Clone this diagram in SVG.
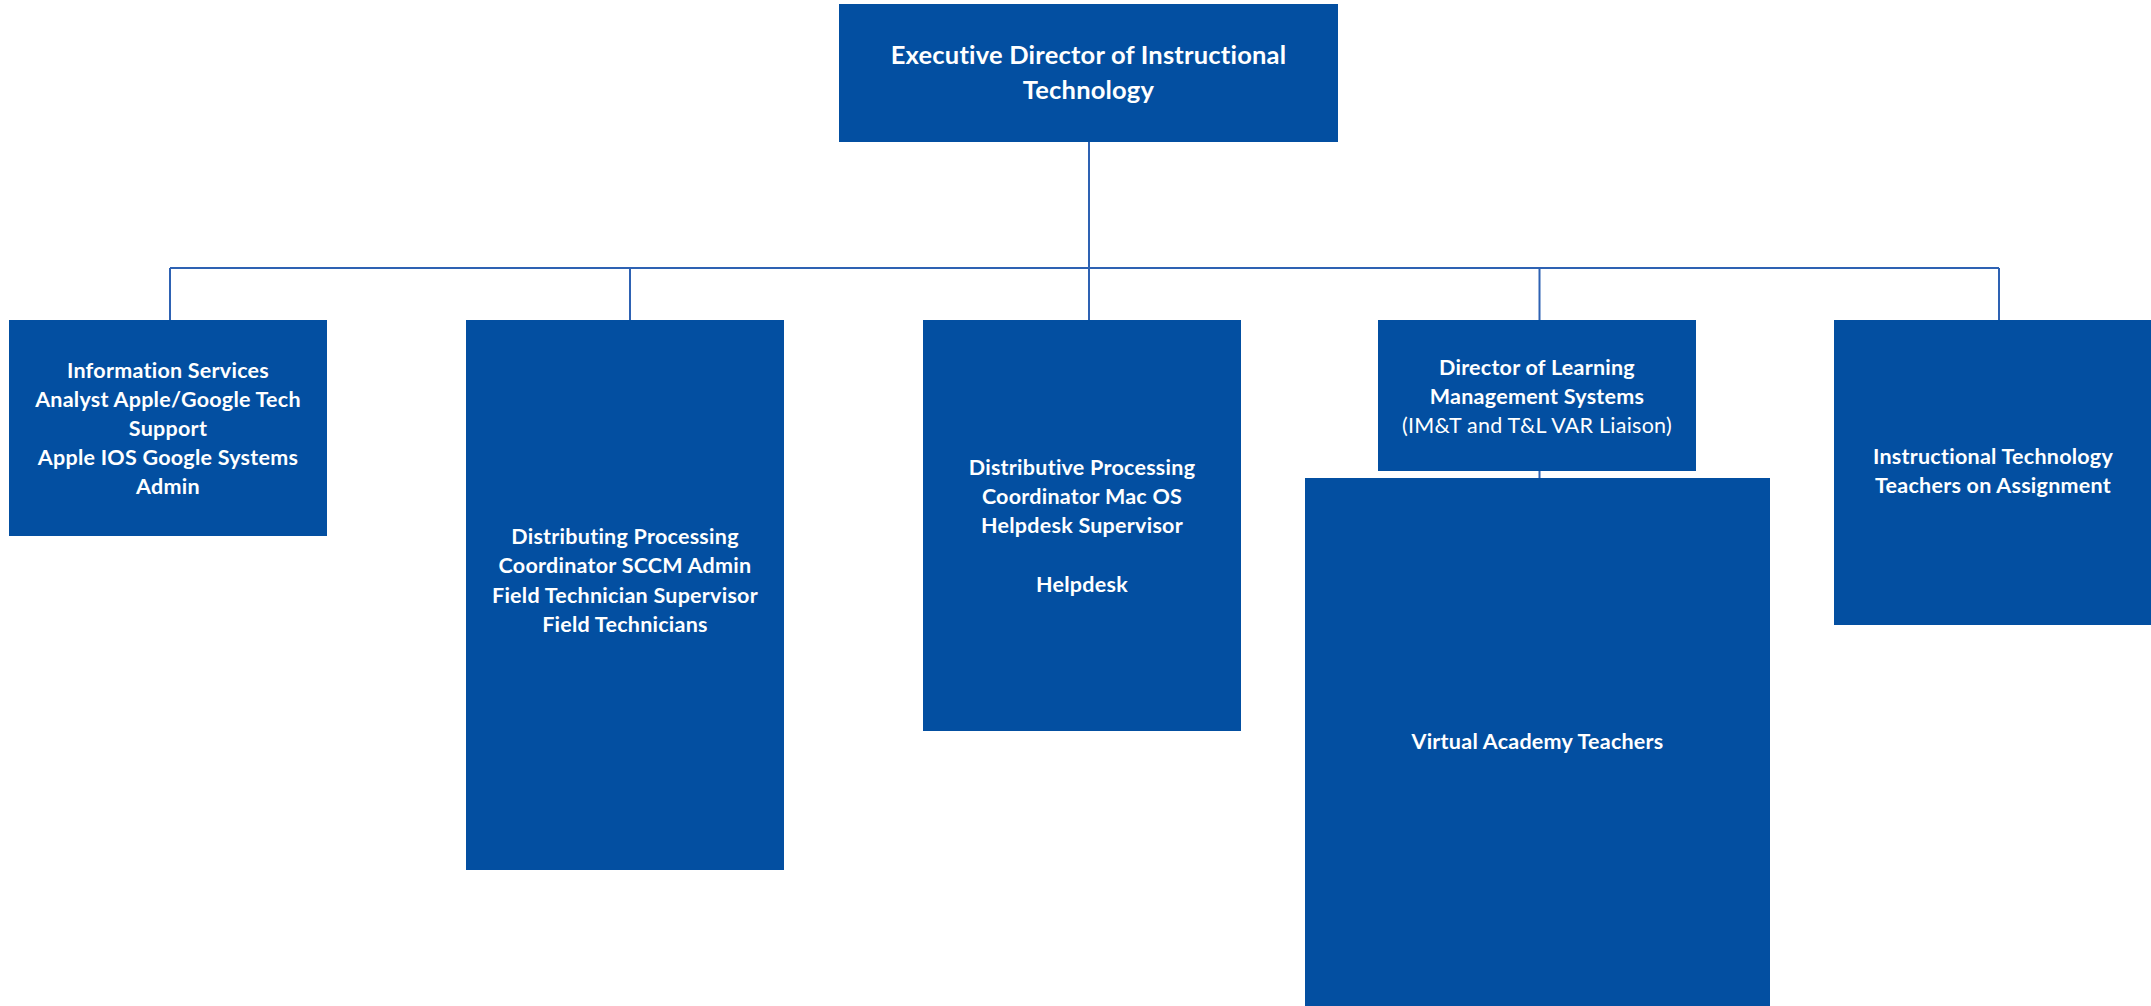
<svg xmlns="http://www.w3.org/2000/svg" width="2151" height="1006" viewBox="0 0 2151 1006">
<style>
.box{fill:#034fa1}
.t{font-family:Lato,"Open Sans","Liberation Sans",sans-serif;font-weight:bold;fill:#fff;text-anchor:middle;font-size:21.5px;letter-spacing:0.25px}
.tt{font-size:25.5px;letter-spacing:0.2px}
.n{font-weight:normal}
.c{stroke:#2e62b3;stroke-width:2;fill:none}
</style>
<rect width="2151" height="1006" fill="#fff"/>
<g id="connectors">
<path class="c" d="M1089 141V268M170 268H1999M170 268V320M630 268V320M1089 268V320M1539.5 268V320M1999 268V320M1539.5 470V478"/>
</g>
<g id="exec">
<rect class="box" x="839" y="4" width="499" height="138"/>
<text class="t tt" x="1088.5" y="64">Executive Director of Instructional</text>
<text class="t tt" x="1088.5" y="99">Technology</text>
</g>
<g id="info-services">
<rect class="box" x="9" y="320" width="318" height="216"/>
<text class="t" x="168" y="378">Information Services</text>
<text class="t" x="168" y="406.5">Analyst Apple/Google Tech</text>
<text class="t" x="168" y="435.5">Support</text>
<text class="t" x="168" y="464.5">Apple IOS Google Systems</text>
<text class="t" x="168" y="494">Admin</text>
</g>
<g id="distributing">
<rect class="box" x="466" y="320" width="318" height="550"/>
<text class="t" x="625" y="543.5">Distributing Processing</text>
<text class="t" x="625" y="573">Coordinator SCCM Admin</text>
<text class="t" x="625" y="602.5">Field Technician Supervisor</text>
<text class="t" x="625" y="632">Field Technicians</text>
</g>
<g id="distributive">
<rect class="box" x="923" y="320" width="318" height="411"/>
<text class="t" x="1082" y="474.5">Distributive Processing</text>
<text class="t" x="1082" y="503.5">Coordinator Mac OS</text>
<text class="t" x="1082" y="533">Helpdesk Supervisor</text>
<text class="t" x="1082" y="592">Helpdesk</text>
</g>
<g id="director-lms">
<rect class="box" x="1378" y="320" width="318" height="151"/>
<text class="t" x="1537" y="374.5">Director of Learning</text>
<text class="t" x="1537" y="403.5">Management Systems</text>
<text class="t n" x="1537" y="432.5">(IM&amp;T and T&amp;L VAR Liaison)</text>
</g>
<g id="virtual-academy">
<rect class="box" x="1305" y="478" width="465" height="528"/>
<text class="t" x="1537.5" y="748.5">Virtual Academy Teachers</text>
</g>
<g id="itoa">
<rect class="box" x="1834" y="320" width="317" height="305"/>
<text class="t" x="1993" y="463.5">Instructional Technology</text>
<text class="t" x="1993" y="493">Teachers on Assignment</text>
</g>
</svg>
